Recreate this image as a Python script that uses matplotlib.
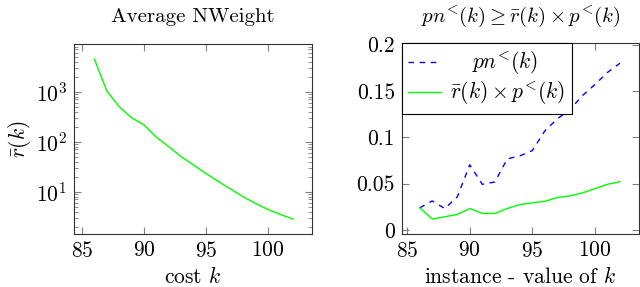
import numpy as np
import matplotlib
matplotlib.use("Agg")
import matplotlib.pyplot as plt

plt.rcParams['font.family'] = 'cmr10'
plt.rcParams['mathtext.fontset'] = 'cm'
plt.rcParams['axes.formatter.use_mathtext'] = True
plt.rcParams['font.size'] = 15.5

# data
k = [86, 87, 88, 89, 90, 91, 92, 93, 94, 95, 96, 97, 98, 99, 100, 101, 102]
avg_weight = [4450, 1030, 500, 300, 216, 122, 79, 50, 34, 23, 16, 11.2, 7.9, 5.8, 4.4, 3.5, 2.84]
pn_less = [0.0239, 0.0314, 0.0232, 0.0357, 0.0704, 0.0493, 0.0518, 0.0768, 0.080, 0.0857,
           0.107, 0.120, 0.130, 0.145, 0.157, 0.170, 0.180]
r_times_p = [0.0239, 0.0118, 0.0143, 0.0168, 0.0232, 0.0179, 0.0179, 0.0232, 0.0275, 0.0293,
             0.031, 0.035, 0.0368, 0.040, 0.0447, 0.0493, 0.0522]
xticks = [85, 90, 95, 100]
yticks_right = [0, 0.05, 0.1, 0.15, 0.2]
ytick_labels_right = ['0', '0.05', '0.1', '0.15', '0.2']

fig = plt.figure(figsize=(6.4, 2.87), dpi=100)
ax1 = fig.add_axes([0.1156, 0.1847, 0.372, 0.662])
ax2 = fig.add_axes([0.628, 0.1847, 0.370, 0.6645])

green = '#00ff00'
blue = '#0000ff'

# left: average weight, log scale
ax1.plot(k, avg_weight, color=green, lw=1.0)
ax1.set_yscale('log')
ax1.set_xlim(84.35, 103.55)
ax1.set_ylim(10**0.154, 10**3.954)
ax1.set_xticks(xticks)
ax1.set_title('Average NWeight', pad=16, fontsize=15)
ax1.set_xlabel('cost $k$', labelpad=3.5)
ax1.set_ylabel(r'$\bar{r}(k)$', labelpad=2)

# right: comparison
pn_lbl = r'pn^{\!<}\!(k)'
rp_lbl = r'\bar{r}(k)\times p^{\!<}\!(k)'
ax2.plot(k, pn_less, color=blue, lw=1.0, linestyle=(0, (4, 4)), label=r'$\quad\,' + pn_lbl + '$')
ax2.plot(k, r_times_p, color=green, lw=1.0, label='$' + rp_lbl + '$')
ax2.set_xlim(84.58, 103.5)
ax2.set_ylim(-0.0043, 0.2015)
ax2.set_xticks(xticks)
ax2.set_yticks(yticks_right)
ax2.set_yticklabels(ytick_labels_right)
ax2.set_title('$' + pn_lbl + r'\geq' + rp_lbl + '$', pad=15, fontsize=15)
ax2.set_xlabel('instance - value of $k$', labelpad=3.5)
leg = ax2.legend(loc='upper left', bbox_to_anchor=(0, 1), fancybox=False,
                 edgecolor='black', framealpha=1, borderaxespad=0,
                 handlelength=1.5, handletextpad=0.45, fontsize=15.5,
                 borderpad=0.3, labelspacing=0.12)
leg.get_frame().set_linewidth(0.8)

for ax in (ax1, ax2):
    ax.tick_params(which='both', direction='in', top=True, right=True, color='#808080')
    ax.tick_params(which='major', length=5, labelsize=15.5, pad=5)
    ax.tick_params(which='minor', length=3)
    for sp in ax.spines.values():
        sp.set_color('#333333')
        sp.set_linewidth(0.8)

fig.savefig('out.png', dpi=100)
